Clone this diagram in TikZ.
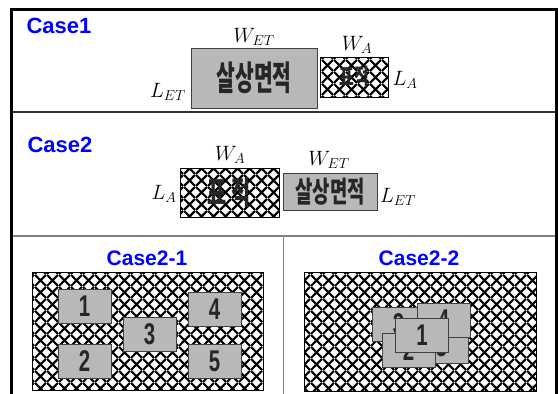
\documentclass[tikz,border=0pt]{standalone}
\usepackage{fontspec}
\setmainfont{Liberation Sans}
\newfontfamily\krfont{Noto Sans CJK KR}
\usetikzlibrary{patterns.meta}

\tikzdeclarepattern{
  name=mesh,
  type=uncolored,
  bounding box={(0pt,0pt) and (11.5pt,11.5pt)},
  tile size={(11.5pt,11.5pt)},
  code={
    \draw[line width=2.2pt] (0pt,0pt) -- (11.5pt,11.5pt) (0pt,11.5pt) -- (11.5pt,0pt);
  }
}

\newcommand{\krtext}[3]{\scalebox{#2}[1]{\fontsize{#1}{#1}\selectfont\krfont\bfseries #3}}
\newcommand{\numtext}[1]{\scalebox{0.68}[1]{\fontsize{30}{30}\selectfont\bfseries #1}}

\begin{document}
\begin{tikzpicture}[x=1pt,y=-1pt,
    casetitle/.style={text=blue, font=\fontsize{22}{22}\selectfont\bfseries, inner sep=0pt},
    graybox/.style={draw=black!75, line width=1pt, fill=black!28, inner sep=0pt, text=black!85},
    meshbox/.style={draw=black, line width=1pt, pattern=mesh, inner sep=0pt, text=black!85},
    sizelabel/.style={font=\fontsize{20}{20}\selectfont, inner sep=0pt},
    numbox/.style={graybox, minimum width=53pt, minimum height=34pt}]
    \useasboundingbox (0,0) rectangle (558,394);
    % dividers and outer frame
    \draw[line width=2pt, black!80] (11,112) -- (556,112);
    \draw[line width=1.5pt, black!50] (11,236) -- (556,236);
    \draw[line width=1.5pt, black!50] (283.5,236) -- (283.5,398);
    \draw[line width=3pt] (11,398) -- (11,9) -- (556,9) -- (556,398);
    % case 1: area larger than target
    \node[casetitle] (c1title) at (59,26) {Case1};
    \node[graybox, minimum width=126pt, minimum height=60pt] (c1area) at (254,78) {\krtext{34}{0.6}{살상면적}};
    \node[meshbox, minimum width=68pt, minimum height=40pt] (c1target) at (354,77) {\krtext{23}{0.7}{표적}};
    \node[sizelabel] (c1wet) at (254,37) {$W_{ET}$};
    \node[sizelabel] (c1let) at (168,92) {$L_{ET}$};
    \node[sizelabel] (c1wa) at (357,45) {$W_A$};
    \node[sizelabel] (c1la) at (405,80) {$L_A$};
    % case 2: target larger than area
    \node[casetitle] (c2title) at (60,145) {Case2};
    \node[meshbox, minimum width=99pt, minimum height=49pt] (c2target) at (229.5,192.5) {\krtext{32}{0.65}{표 적}};
    \node[graybox, minimum width=94pt, minimum height=37pt] (c2area) at (330,191.5) {\krtext{29}{0.65}{살상면적}};
    \node[sizelabel] (c2wa) at (230,155) {$W_A$};
    \node[sizelabel] (c2la) at (164,194) {$L_A$};
    \node[sizelabel] (c2wet) at (329,160) {$W_{ET}$};
    \node[sizelabel] (c2let) at (398,197) {$L_{ET}$};
    % case 2-1: spread apart
    \node[casetitle, font=\fontsize{21}{21}\selectfont\bfseries] (c21title) at (147,258) {Case2-1};
    \node[meshbox, minimum width=231pt, minimum height=118pt] (c21target) at (147.5,331) {};
    \node[numbox] (c21a) at (84.5,306) {\numtext{1}};
    \node[numbox] (c21b) at (84.5,361) {\numtext{2}};
    \node[numbox] (c21c) at (149.5,334.5) {\numtext{3}};
    \node[numbox] (c21d) at (214.5,309) {\numtext{4}};
    \node[numbox] (c21e) at (214.5,361) {\numtext{5}};
    % case 2-2: piled up
    \node[casetitle, font=\fontsize{21}{21}\selectfont\bfseries] (c22title) at (419,258) {Case2-2};
    \node[meshbox, minimum width=232pt, minimum height=119pt] (c22target) at (420,331.5) {};
    \node[numbox] (c22c) at (398.5,324) {\numtext{3}};
    \node[numbox] (c22e) at (441.5,346) {\numtext{5}};
    \node[numbox] (c22d) at (443.5,320.5) {\numtext{4}};
    \node[numbox] (c22b) at (408.5,350) {\numtext{2}};
    \node[numbox] (c22a) at (422,335) {\numtext{1}};
\end{tikzpicture}
\end{document}
